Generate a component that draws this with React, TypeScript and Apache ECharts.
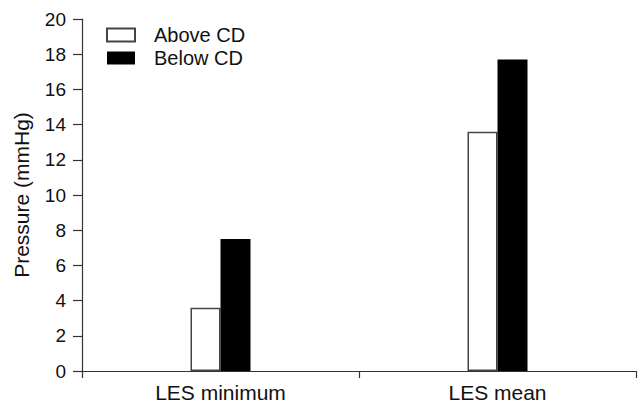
import React, { useEffect, useRef } from "react";
import * as echarts from "echarts";

const categories = ["LES minimum", "LES mean"];
const aboveCD = [3.6, 13.6];
const belowCD = [7.5, 17.7];
const seriesNames = ["Above CD", "Below CD"];
const yTicks = { min: 0, max: 20, interval: 2 };

const FONT = "'Liberation Sans', Arial, Helvetica, sans-serif";
const INK = "#111";

export default function App() {
  const ref = useRef<HTMLDivElement>(null);
  useEffect(() => {
    document.body.style.margin = "0";
    if (!ref.current) return;
    const chart = echarts.init(ref.current, undefined, { renderer: "svg" });
    chart.setOption({
      animation: false,
      backgroundColor: "#ffffff",
      textStyle: { fontFamily: FONT },
      grid: { left: 82, right: 2, top: 19, bottom: 34, containLabel: false },
      legend: {
        orient: "vertical",
        left: 106,
        top: 25,
        itemWidth: 28,
        itemHeight: 13,
        itemGap: 3,
        padding: 0,
        icon: "rect",
        data: seriesNames,
        textStyle: { fontSize: 20, lineHeight: 20, color: INK, fontFamily: FONT, padding: [0, 0, 0, 14] },
      },
      xAxis: {
        type: "category",
        data: categories,
        axisLine: { show: true, lineStyle: { color: "#333", width: 1.2 } },
        axisTick: { show: true, alignWithLabel: false, length: 7, lineStyle: { color: "#333", width: 1.2 } },
        axisLabel: { fontSize: 21, color: INK, margin: 11, fontFamily: FONT },
        splitLine: { show: false },
      },
      yAxis: {
        type: "value",
        min: yTicks.min,
        max: yTicks.max,
        interval: yTicks.interval,
        name: "Pressure (mmHg)",
        nameLocation: "middle",
        nameRotate: 90,
        nameGap: 50,
        nameTextStyle: { fontSize: 21, color: INK, fontFamily: FONT },
        axisLine: { show: true, lineStyle: { color: "#333", width: 1.2 } },
        axisTick: { show: true, length: 9, lineStyle: { color: "#333", width: 1.2 } },
        axisLabel: { fontSize: 19, color: INK, margin: 16, fontFamily: FONT },
        splitLine: { show: false },
      },
      series: [
        {
          name: seriesNames[0],
          type: "bar",
          data: aboveCD,
          barWidth: 30,
          barGap: "0%",
          itemStyle: { color: "#ffffff", borderColor: "#444", borderWidth: 1.5 },
        },
        {
          name: seriesNames[1],
          type: "bar",
          data: belowCD,
          barWidth: 30,
          barGap: "0%",
          itemStyle: { color: "#000000", borderColor: "#000", borderWidth: 0 },
        },
      ],
    });
    return () => chart.dispose();
  }, []);
  return <div ref={ref} style={{ width: 638, height: 405 }} />;
}
